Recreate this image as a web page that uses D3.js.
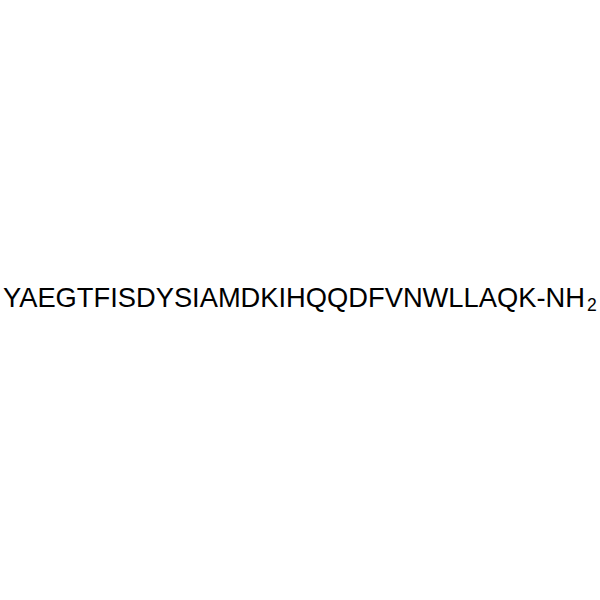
<!DOCTYPE html>
<html>
<head>
<meta charset="utf-8">
<script src="https://cdn.jsdelivr.net/npm/d3@7"></script>
<style>
  body { margin: 0; background: #fff; }
</style>
</head>
<body>
<div id="chart"></div>
<script>
// peptide sequence, shown as one line with a C-terminal amide
const sequence = ['YAEGTFISDYSIAMDKIHQQDFVNWLLAQK'];
const terminal = ['-NH'];
const subscript = ['2'];

const W = 600, H = 600;

const svg = d3.select('#chart')
  .append('svg')
  .attr('width', W)
  .attr('height', H);

const label = svg.append('text')
  .attr('x', 3)
  .attr('y', 307)
  .attr('font-family', 'Liberation Sans, Arial, sans-serif')
  .attr('font-size', 27.3)
  .attr('fill', '#000');

label.append('tspan').text(sequence[0] + terminal[0]);
label.append('tspan')
  .attr('font-size', 17.5)
  .attr('dx', 2)
  .attr('dy', 4)
  .text(subscript[0]);
</script>
</body>
</html>
